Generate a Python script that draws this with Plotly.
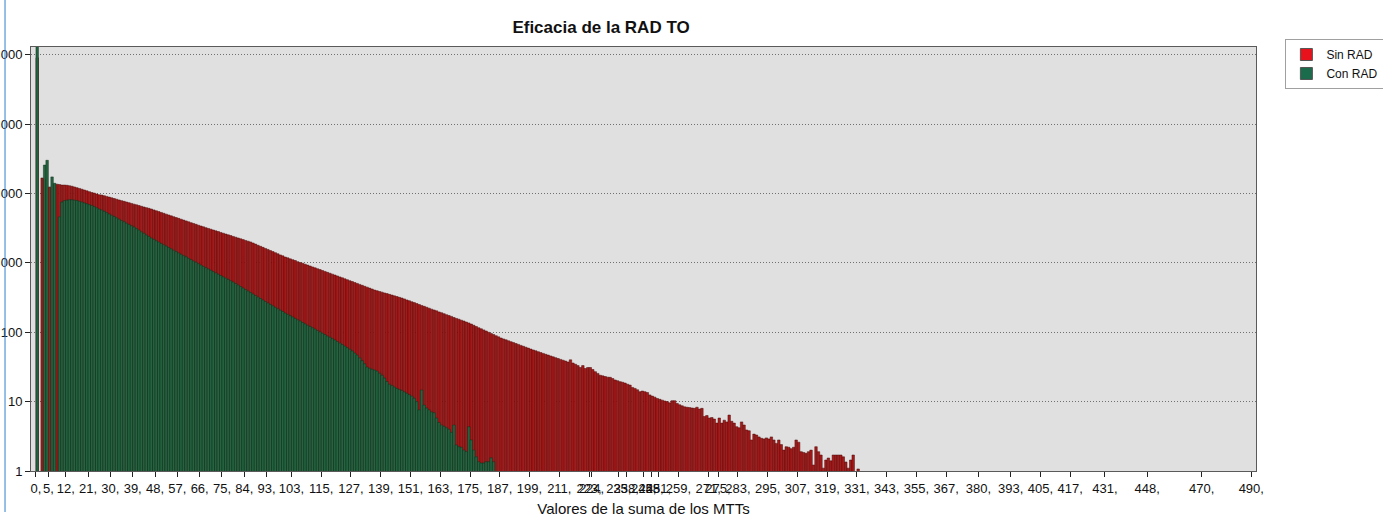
import plotly.graph_objects as go

# Sum of MTT values (one bar per integer value)
sin_rad = [
    900000, None, 16700, 16000, 12000, 12400, 12000, 13600, 13600, 13400,
    13200, 13200, 13100, 12900, 12700, 12400, 12100, 11800, 11500, 11200,
    10900, 10600, 10300, 10100, 9800, 9550, 9480, 9270, 9060, 8850,
    8650, 8450, 8250, 8050, 7870, 7690, 7520, 7350, 7180, 7010,
    6850, 6700, 6530, 6380, 6240, 6100, 5960, 5790, 5620, 5470,
    5320, 5170, 5030, 4890, 4750, 4620, 4490, 4370, 4250, 4130,
    4020, 3900, 3790, 3690, 3590, 3480, 3390, 3300, 3210, 3130,
    3050, 2970, 2890, 2820, 2740, 2670, 2600, 2530, 2470, 2400,
    2340, 2280, 2220, 2160, 2100, 2050, 2000, 1930, 1860, 1790,
    1730, 1670, 1610, 1560, 1500, 1450, 1400, 1350, 1300, 1260,
    1210, 1180, 1140, 1110, 1080, 1040, 1010, 985, 955, 927,
    900, 873, 847, 822, 798, 774, 752, 729, 708, 687,
    667, 647, 627, 608, 589, 571, 553, 537, 520, 505,
    489, 474, 459, 446, 432, 419, 405, 396, 386, 378,
    368, 360, 351, 343, 334, 327, 318, 311, 302, 292,
    284, 275, 267, 259, 251, 243, 236, 229, 222, 215,
    209, 203, 196, 191, 185, 179, 174, 169, 163, 158,
    154, 149, 145, 140, 136, 131, 126, 121, 116, 112,
    108, 104, 99.8, 96, 92.5, 89, 85.7, 82.4, 80, 77.6,
    75.2, 73, 70.8, 68.7, 66.7, 64.6, 62.7, 60.8, 59, 57.2,
    55.5, 54, 52.4, 50.9, 49.5, 48.1, 46.8, 45.5, 44.2, 43,
    41.8, 40.6, 39.5, 38.4, 37.2, 40, 36, 34.5, 33, 31,
    33, 30, 31, 31, 29, 27, 25.5, 24, 23.5, 23,
    22.5, 22.4, 21.5, 20.5, 20, 19.4, 19, 18.5, 17.8, 17.3,
    16, 15.5, 14.8, 13.9, 14.2, 13.9, 13.5, 12.5, 12, 11.6,
    11.1, 10.8, 10.5, 10.2, 10, 9.6, 10.3, 10.3, 9.4, 9,
    8.7, 8.4, 8.3, 8.2, 8.1, 8, 8.3, 7.8, 8, 6.1,
    6.3, 5.8, 5.9, 5.6, 4.9, 5.8, 4.9, 5.4, 5.1, 6.4,
    5.2, 4.9, 4.35, 4.2, 5.1, 4.6, 3.9, 3.8, 2.8, 3.4,
    3.3, 3.1, 2.96, 2.9, 3, 2.9, 3.1, 2.8, 2.5, 2.8,
    2.4, 2, 2.24, 2.2, 2.1, 2.2, 2.8, 2.6, 1.9, 1.85,
    1.8, 1.9, 2, 1.22, 2.24, 1.9, 1.7, 1.1, 1.44, 1.54,
    1.4, 1.7, 1.7, 1.7, 1.7, 1.6, 1.35, 1.1, 1.44, 1.7,
    None, 1.07,
]

con_rad = [
    1400000, None, None, 25600, 30000, None, 17300, 14000, None, 4600,
    7500, 7900, 8000, 8100, 8100, 8000, 7900, 7700, 7500, 7300,
    7100, 6900, 6700, 6450, 6200, 5950, 5770, 5520, 5290, 5060,
    4850, 4640, 4450, 4260, 4070, 3900, 3730, 3580, 3430, 3280,
    3110, 2960, 2800, 2660, 2520, 2400, 2280, 2180, 2080, 1990,
    1900, 1820, 1740, 1660, 1590, 1520, 1450, 1390, 1330, 1270,
    1220, 1160, 1110, 1060, 1020, 971, 929, 889, 851, 815,
    780, 748, 716, 686, 656, 628, 602, 577, 552, 529,
    503, 479, 455, 433, 412, 392, 373, 355, 338, 321,
    306, 291, 277, 264, 251, 240, 229, 218, 208, 199,
    189, 181, 173, 166, 158, 151, 145, 138, 132, 126,
    121, 116, 111, 106, 101, 96.6, 92.5, 88.3, 84.5, 80.8,
    77.3, 73.5, 69.8, 66.4, 63.1, 60, 57, 53.7, 50.1, 46.8,
    42.7, 38.9, 35.1, 31.5, 30.2, 29.2, 28.5, 27.5, 25.7, 24,
    21.9, 19.5, 17.8, 17, 16.2, 15.5, 15, 14.5, 13.8, 13.2,
    12.6, 12, 11.2, 10, 7.6, 14.7, 8.9, 8.1, 7.6, 7.1,
    6.9, 5.8, 5, 4.6, 4.4, 4.2, 4, 3.6, 4.6, 2.37,
    2.24, 2.2, 2, 1.9, 4.35, 2.8, 2, 1.6, 1.36, 1.3,
    1.3, 1.36, 1.36, 1.55, 1.36,
]

mtt_sin = list(range(len(sin_rad)))
mtt_con = list(range(len(con_rad)))

x_ticks = [0, 5, 12, 21, 30, 39, 48, 57, 66, 75, 84, 93, 103, 115, 127, 139,
           151, 163, 175, 187, 199, 211, 223, 224, 235, 238, 245, 248, 251,
           259, 271, 275, 283, 295, 307, 319, 331, 343, 355, 367, 380, 393,
           405, 417, 431, 448, 470, 490]
x_tick_text = [f"{v}," for v in x_ticks]
y_ticks = [1, 10, 100, 1000, 10000, 100000, 1000000]
y_tick_text = ["1", "10", "100", "1 000", "10 000", "100 000", "1 000 000"]

FONT = "Liberation Sans, Arial, sans-serif"

fig = go.Figure()
fig.add_trace(go.Bar(
    x=mtt_sin, y=sin_rad, name="Sin RAD", width=1, offset=0,
    marker=dict(color="#a81a1a", line=dict(color="#4a0a0a", width=0.5)),
    showlegend=False))
fig.add_trace(go.Bar(
    x=mtt_con, y=con_rad, name="Con RAD", width=1, offset=0,
    marker=dict(color="#246441", line=dict(color="#10301f", width=0.5)),
    showlegend=False))
# legend swatches
fig.add_trace(go.Bar(x=[None], y=[None], name="Sin RAD",
                     marker=dict(color="#e8121c", line=dict(color="#555555", width=1))))
fig.add_trace(go.Bar(x=[None], y=[None], name="Con RAD",
                     marker=dict(color="#1b6b4d", line=dict(color="#555555", width=1))))

fig.update_layout(
    width=1383, height=518,
    margin=dict(l=31, r=127, t=47, b=47, autoexpand=False),
    barmode="overlay",
    paper_bgcolor="white",
    plot_bgcolor="#e0e0e0",
    font=dict(family=FONT, size=13, color="#111111"),
    title=dict(text="<b>Eficacia de la RAD TO</b>", x=0.4346, xanchor="center",
               y=0.948, yanchor="middle", font=dict(family=FONT, size=17, color="#111111")),
    legend=dict(x=1.024, y=1.0189, xanchor="left", yanchor="top",
                bgcolor="white", bordercolor="#a0a0a0", borderwidth=1,
                font=dict(family=FONT, size=12, color="#111111"),
                tracegroupgap=0),
    xaxis=dict(range=[-2, 491.9], tickmode="array", tickvals=x_ticks, ticktext=x_tick_text,
               tickangle=0, ticks="outside", ticklen=5, tickcolor="#222222",
               showgrid=False, zeroline=False, showline=True, linecolor="#5a5a5a",
               linewidth=1, mirror=True, automargin=False,
               title=dict(text="Valores de la suma de los MTTs", standoff=8,
                          font=dict(family=FONT, size=15))),
    yaxis=dict(type="log", range=[0, 6.11], tickmode="array", tickvals=y_ticks,
               ticktext=y_tick_text, ticks="outside", ticklen=5, tickcolor="#222222",
               showgrid=True, gridcolor="#707070", griddash="1px,2px", gridwidth=1,
               zeroline=False, showline=True, linecolor="#5a5a5a", linewidth=1,
               mirror=True, automargin=False),
    shapes=[dict(type="line", xref="paper", yref="paper",
                 x0=-0.0212, x1=-0.0212, y0=1.111, y1=-0.0967,
                 line=dict(color="#2f7fd0", width=1))],
)

fig.write_html("out.html", post_script="document.body.style.margin='0';",
               config={"displayModeBar": False})
